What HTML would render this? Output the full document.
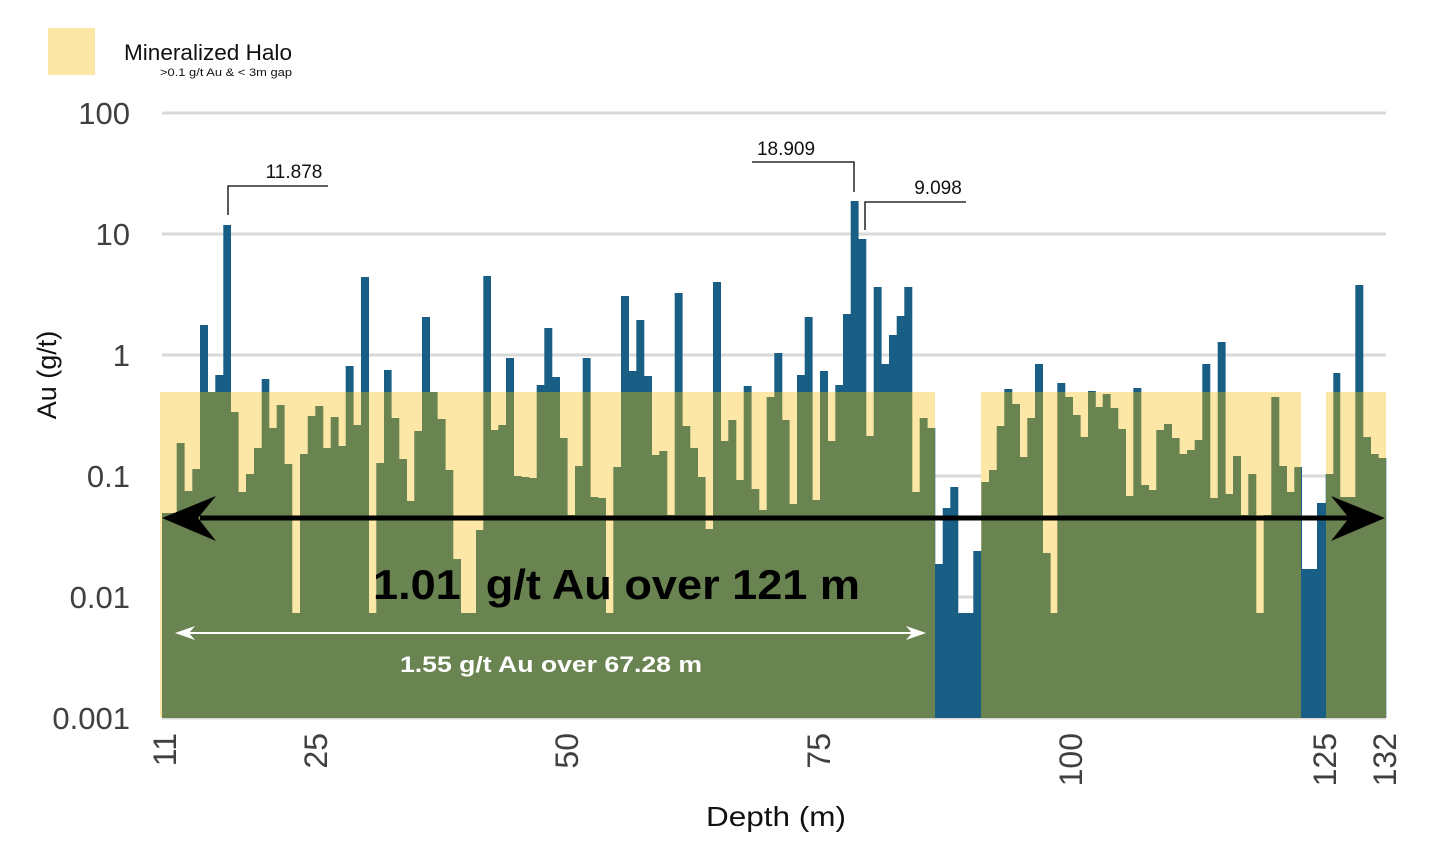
<!DOCTYPE html>
<html><head><meta charset="utf-8"><style>
body{margin:0;background:#fff;}
svg{display:block;font-family:"Liberation Sans",sans-serif;}
</style></head><body>
<svg id="s" width="1430" height="849" viewBox="0 0 1430 849" xmlns="http://www.w3.org/2000/svg">
<defs>
<clipPath id="halo">
<rect x="160" y="392" width="775" height="326"/>
<rect x="981" y="392" width="320" height="326"/>
<rect x="1326" y="392" width="60" height="326"/>
</clipPath>
</defs>
<rect x="48" y="28" width="47" height="47" fill="#fde7a6"/>
<text x="124" y="60" font-size="22" fill="#111" textLength="168" lengthAdjust="spacingAndGlyphs">Mineralized Halo</text>
<text x="160" y="76" font-size="11" fill="#111" textLength="132" lengthAdjust="spacingAndGlyphs">&gt;0.1 g/t Au &amp; &lt; 3m gap</text>
<g stroke="#d9d9d9" stroke-width="3">
<line x1="162" y1="113" x2="1386" y2="113"/>
<line x1="162" y1="234" x2="1386" y2="234"/>
<line x1="162" y1="355" x2="1386" y2="355"/>
<line x1="162" y1="476" x2="1386" y2="476"/>
<line x1="162" y1="597" x2="1386" y2="597"/>
<line x1="162" y1="718" x2="1386" y2="718"/>
</g>
<g id="blue" fill="#185e85"></g>
<g fill="#fde7a6">
<rect x="160" y="392" width="775" height="325"/>
<rect x="981" y="392" width="320" height="325"/>
<rect x="1326" y="392" width="60" height="325"/>
</g>
<g id="green" fill="#6a8451" clip-path="url(#halo)"></g>
<g font-size="31" fill="#404040" text-anchor="end">
<text x="130" y="124">100</text>
<text x="130" y="245">10</text>
<text x="130" y="366">1</text>
<text x="130" y="487">0.1</text>
<text x="130" y="608">0.01</text>
<text x="130" y="729">0.001</text>
</g>
<text transform="translate(56,375) rotate(-90)" font-size="27" fill="#111" text-anchor="middle">Au (g/t)</text>
<g font-size="32" fill="#404040" text-anchor="end">
<text transform="translate(176,733) rotate(-90)">11</text>
<text transform="translate(327,733) rotate(-90)">25</text>
<text transform="translate(578,733) rotate(-90)">50</text>
<text transform="translate(830,733) rotate(-90)">75</text>
<text transform="translate(1082,733) rotate(-90)">100</text>
<text transform="translate(1336,733) rotate(-90)">125</text>
<text transform="translate(1396,733) rotate(-90)">132</text>
</g>
<text x="706" y="826" font-size="28" fill="#111" textLength="140" lengthAdjust="spacingAndGlyphs">Depth (m)</text>
<g stroke="#000" stroke-width="1.3" fill="none">
<polyline points="328,186 228,186 228,215"/>
<polyline points="752,162 854,162 854,192"/>
<polyline points="966,202 865,202 865,230"/>
</g>
<g font-size="19" fill="#111" text-anchor="middle">
<text x="294" y="178">11.878</text>
<text x="786" y="155">18.909</text>
<text x="938" y="194">9.098</text>
</g>
<line x1="200" y1="518" x2="1350" y2="518" stroke="#000" stroke-width="5"/>
<polygon points="162,518 216,496 198,518 216,541" fill="#000"/>
<polygon points="1385,518 1331,496 1349,518 1331,541" fill="#000"/>
<text x="373" y="599" font-size="42" font-weight="bold" fill="#000" xml:space="preserve" textLength="487" lengthAdjust="spacingAndGlyphs">1.01  g/t Au over 121 m</text>
<line x1="180" y1="633" x2="920" y2="633" stroke="#fff" stroke-width="2"/>
<polygon points="175,633 195,626 189,633 195,640" fill="#fff"/>
<polygon points="926,633 906,626 912,633 906,640" fill="#fff"/>
<text x="400" y="672" font-size="22" font-weight="bold" fill="#fff" textLength="302" lengthAdjust="spacingAndGlyphs">1.55 g/t Au over 67.28 m</text>
</svg>
<script>
var d=[162,513,176.7,443,184.3,491,192.3,469,200,325,207.7,392,215.3,375,223.3,225,230.7,412,238.3,492,246,474,254,448,261.7,379,269,428,276.7,405,284.3,464,292,613,300,454,307.7,416,315.3,406,323,448,330.7,417,338.3,446,345.7,366,353.3,425,361,277,368.7,613,376.3,463,384,370,391.3,418,399,459,406.7,501,414.3,431,422,317,429.7,392,437.3,419,445.3,470,453,559,460.7,613,468.3,613,476,530,483.3,276,490.7,430,498.3,425,506,358,513.7,476,521.3,477,529,478,536.7,385,544.3,328,552,377,559.7,438,567.3,515,575,466,582.7,358,590.3,497,598,498,605.7,613,613.3,467,621,296,628.7,371,636.3,320,644,376,651.7,455,659.3,451,667,515,674.7,293,682.3,426,690,448,697.7,477,705.3,529,713,282,720.7,441,728.3,420,736,480,743.7,386,751.3,489,759,510,766.7,397,774.3,353,782,420,789.3,504,797,375,804.7,317,812.3,500,820,371,827.7,441,835.3,385,843,314,850.7,201,858.3,239,866,436,873.7,287,881.3,364,889,335,896.7,316,904.3,287,912,492,919.7,418,927.3,428,935,564,942.7,508,950.3,487,958,613,965.7,613,973.3,551,981.3,482,989,470,996.7,426,1004.3,389,1012,404,1019.7,457,1027.3,418,1035,364,1042.7,553,1050.3,613,1057.3,383,1065,397,1072.7,415,1080.3,437,1088,391,1095.5,407,1102.7,394,1110.3,408,1118,429,1125.7,496,1133.3,388,1141,485,1148.7,490,1156.3,430,1164,424,1171.7,438,1179.3,454,1187,450,1194.7,440,1202.3,364,1210,498,1217.7,342,1225.3,494,1233,456,1240.7,515,1248.3,474,1256,613,1263.7,515,1271.3,397,1279,466,1286.7,492,1294.3,467,1301.7,569,1309.3,569,1317,503,1325.7,474,1333.3,373,1340,497,1347.7,497,1355.3,285,1363,437,1370.7,454,1378.3,458,1386,0];
var ns="http://www.w3.org/2000/svg",b=document.getElementById("blue"),g=document.getElementById("green");
for(var i=0;i<d.length-2;i+=2){var x=d[i],w=d[i+2]-x,y=d[i+1];
[b,g].forEach(function(p){var r=document.createElementNS(ns,"rect");r.setAttribute("x",x);r.setAttribute("y",y);r.setAttribute("width",w+0.3);r.setAttribute("height",718-y);p.appendChild(r);});}
</script>
</body></html>
